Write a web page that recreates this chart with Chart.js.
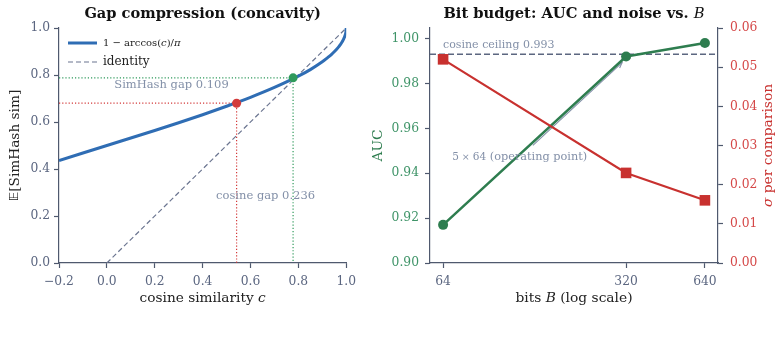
<!DOCTYPE html>
<html>
<head>
<meta charset="utf-8">
<script src="https://cdn.jsdelivr.net/npm/chart.js@4.4.1/dist/chart.umd.min.js"></script>
<style>
  html, body { margin: 0; padding: 0; background: #fff; }
  #wrap { position: relative; width: 783px; height: 339px; }
  canvas { position: absolute; top: 0; }
</style>
</head>
<body>
<div id="wrap">
  <canvas id="left" width="362" height="339" style="left:0"></canvas>
  <canvas id="right" width="421" height="339" style="left:362px"></canvas>
</div>
<script>
// ---- left panel data ----
const cosGrid = [-0.2, -0.1, 0, 0.1, 0.2, 0.3, 0.4, 0.5, 0.6, 0.7, 0.8, 0.85, 0.9, 0.92, 0.94, 0.95, 0.96, 0.97, 0.98, 0.99, 0.995, 0.999, 1.0];
const simhashCurve = [0.436, 0.468, 0.5, 0.532, 0.564, 0.597, 0.631, 0.667, 0.705, 0.747, 0.795, 0.823, 0.856, 0.872, 0.889, 0.899, 0.910, 0.922, 0.936, 0.955, 0.968, 0.986, 1.0];
const identityX = [0, 1];
const identityY = [0, 1];
const pairCos = [0.542, 0.778];   // red pair, green pair
const pairSim = [0.680, 0.788];
const cosTicks = [-0.2, 0, 0.2, 0.4, 0.6, 0.8, 1.0];
const simTicks = [0, 0.2, 0.4, 0.6, 0.8, 1.0];

// ---- right panel data ----
const bits = [64, 320, 640];
const auc = [0.917, 0.992, 0.998];
const sigma = [0.052, 0.023, 0.016];
const cosineCeiling = 0.993;
const bitTicks = [64, 320, 640];
const aucTicks = [0.90, 0.92, 0.94, 0.96, 0.98, 1.00];
const sigmaTicks = [0, 0.01, 0.02, 0.03, 0.04, 0.05, 0.06];

const SERIF = '"DejaVu Serif", "Liberation Serif", serif';
const SLATE = '#4f596e';
const TICKTXT = '#5b6680';
const NOTE = '#8390a8';
const BLUE = '#2f6db4';
const GREEN = '#2e7d4f';
const RED = '#c8312f';
const TICKFONT = { family: SERIF, size: 12.3 };

function drawParts(ctx, parts, x, y, align, angle) {
  ctx.save();
  ctx.translate(x, y);
  ctx.rotate(angle || 0);
  let total = 0;
  parts.forEach(p => { ctx.font = p.font; p.w = ctx.measureText(p.t).width; total += p.w; });
  let cx = align === 'center' ? -total / 2 : align === 'right' ? -total : 0;
  ctx.textBaseline = 'middle';
  ctx.textAlign = 'left';
  parts.forEach(p => {
    ctx.font = p.font;
    ctx.fillStyle = p.color;
    ctx.fillText(p.t, cx, 0);
    cx += p.w;
  });
  ctx.restore();
}

function axisStyle(extra) {
  return Object.assign({
    grid: { display: true, drawOnChartArea: false, drawTicks: true, tickLength: 5, tickColor: SLATE, tickWidth: 1.2 },
    border: { display: true, color: SLATE, width: 1.2 },
  }, extra);
}

const xMinCos = -0.2;
const leftColor = ['#d33a3a', '#2f9a5c'];

const guideSets = pairCos.map((c, i) => ({
  data: [{ x: xMinCos, y: pairSim[i] }, { x: c, y: pairSim[i] }, { x: c, y: 0 }],
  borderColor: leftColor[i],
  borderWidth: 1.2,
  borderDash: [1.2, 2],
  pointRadius: 0,
  order: 3,
}));

const leftDecor = {
  id: 'leftDecor',
  afterDraw(chart) {
    const { ctx, chartArea: a, scales: { x, y } } = chart;
    const cx = (a.left + a.right) / 2;
    drawParts(ctx, [{ t: 'Gap compression (concavity)', font: 'bold 14.6px ' + SERIF, color: '#111' }], cx, 14, 'center');
    drawParts(ctx, [
      { t: 'cosine similarity ', font: '13.7px ' + SERIF, color: '#222' },
      { t: 'c', font: 'italic 13.7px ' + SERIF, color: '#222' },
    ], cx, 298, 'center');
    drawParts(ctx, [
      { t: '𝔼', font: '13px "DejaVu Sans", ' + SERIF, color: '#222' },
      { t: '[SimHash sim]', font: '13.7px ' + SERIF, color: '#222' },
    ], 15, (a.top + a.bottom) / 2, 'center', -Math.PI / 2);
    // annotations
    drawParts(ctx, [{ t: 'SimHash gap 0.109', font: '11.5px ' + SERIF, color: NOTE }], x.getPixelForValue(0.27), y.getPixelForValue(0.757), 'center');
    drawParts(ctx, [{ t: 'cosine gap 0.236', font: '11.5px ' + SERIF, color: NOTE }], x.getPixelForValue(0.663), y.getPixelForValue(0.285), 'center');
    // legend
    const ds = chart.data.datasets;
    const lx = a.left + 9, lw = 29;
    [[ds[1], a.top + 15], [ds[2], a.top + 34]].forEach(([d, ly]) => {
      ctx.save();
      ctx.strokeStyle = d.borderColor;
      ctx.lineWidth = d.borderWidth;
      ctx.setLineDash(d.borderDash || []);
      ctx.beginPath(); ctx.moveTo(lx, ly); ctx.lineTo(lx + lw, ly); ctx.stroke();
      ctx.restore();
    });
    drawParts(ctx, [
      { t: '1 − arccos(', font: '10px ' + SERIF, color: '#222' },
      { t: 'c', font: 'italic 10px ' + SERIF, color: '#222' },
      { t: ')/', font: '10px ' + SERIF, color: '#222' },
      { t: 'π', font: 'italic 10px ' + SERIF, color: '#222' },
    ], lx + lw + 6, a.top + 15, 'left');
    drawParts(ctx, [{ t: 'identity', font: '12px ' + SERIF, color: '#222' }], lx + lw + 6, a.top + 34, 'left');
  }
};

new Chart(document.getElementById('left'), {
  type: 'line',
  data: {
    datasets: [
      {
        type: 'scatter',
        data: pairCos.map((c, i) => ({ x: c, y: pairSim[i] })),
        pointBackgroundColor: leftColor,
        pointBorderWidth: 0,
        pointRadius: 4.5,
        order: 0,
      },
      {
        label: '1 − arccos(c)/π',
        data: cosGrid.map((c, i) => ({ x: c, y: simhashCurve[i] })),
        borderColor: BLUE,
        borderWidth: 3,
        pointRadius: 0,
        cubicInterpolationMode: 'monotone',
        order: 1,
      },
      {
        label: 'identity',
        data: identityX.map((c, i) => ({ x: c, y: identityY[i] })),
        borderColor: '#6b7590',
        borderWidth: 1.2,
        borderDash: [5, 3],
        pointRadius: 0,
        order: 2,
      },
      ...guideSets,
    ],
  },
  options: {
    responsive: false,
    animation: false,
    devicePixelRatio: 1,
    events: [],
    layout: { padding: { top: 28, right: 15, bottom: 0, left: 0 } },
    plugins: { legend: { display: false }, tooltip: { enabled: false } },
    scales: {
      x: axisStyle({
        type: 'linear', min: -0.2, max: 1.0,
        afterBuildTicks: s => { s.ticks = cosTicks.map(v => ({ value: v })); },
        afterFit: s => { s.height = 76; },
        ticks: { color: TICKTXT, font: TICKFONT, padding: 6, maxRotation: 0,
          callback: v => v.toFixed(1).replace('-', '−') },
      }),
      y: axisStyle({
        type: 'linear', min: 0, max: 1.0,
        afterBuildTicks: s => { s.ticks = simTicks.map(v => ({ value: v })); },
        afterFit: s => { s.width = 59; },
        ticks: { color: TICKTXT, font: TICKFONT, padding: 4,
          callback: v => v.toFixed(1) },
      }),
    },
  },
  plugins: [leftDecor],
});

// ---- right panel ----
const bitMin = 64 / Math.pow(10, 0.05);
const bitMax = 640 * Math.pow(10, 0.05);

const rightDecor = {
  id: 'rightDecor',
  beforeDatasetsDraw(chart) {
    const { ctx, scales: { x, y } } = chart;
    const x0 = x.getPixelForValue(141), y0 = y.getPixelForValue(0.9524);
    const x1 = x.getPixelForValue(309), y1 = y.getPixelForValue(0.9893);
    ctx.save();
    ctx.strokeStyle = NOTE;
    ctx.lineWidth = 1.1;
    ctx.beginPath(); ctx.moveTo(x0, y0); ctx.lineTo(x1, y1); ctx.stroke();
    const ang = Math.atan2(y1 - y0, x1 - x0);
    ctx.beginPath();
    ctx.moveTo(x1 - 6 * Math.cos(ang - 0.4), y1 - 6 * Math.sin(ang - 0.4));
    ctx.lineTo(x1, y1);
    ctx.lineTo(x1 - 6 * Math.cos(ang + 0.4), y1 - 6 * Math.sin(ang + 0.4));
    ctx.stroke();
    ctx.restore();
  },
  afterDraw(chart) {
    const { ctx, chartArea: a, scales: { x, y } } = chart;
    const cx = (a.left + a.right) / 2;
    drawParts(ctx, [
      { t: 'Bit budget: AUC and noise vs. ', font: 'bold 14.7px ' + SERIF, color: '#111' },
      { t: 'B', font: 'italic 14.7px ' + SERIF, color: '#111' },
    ], cx, 14, 'center');
    drawParts(ctx, [
      { t: 'bits ', font: '13.8px ' + SERIF, color: '#222' },
      { t: 'B', font: 'italic 13.8px ' + SERIF, color: '#222' },
      { t: ' (log scale)', font: '13.8px ' + SERIF, color: '#222' },
    ], cx, 298, 'center');
    const my = (a.top + a.bottom) / 2;
    drawParts(ctx, [{ t: 'AUC', font: '13.8px ' + SERIF, color: GREEN }], 16, my, 'center', -Math.PI / 2);
    drawParts(ctx, [
      { t: 'σ', font: 'italic 13.8px ' + SERIF, color: RED },
      { t: ' per comparison', font: '13.8px ' + SERIF, color: RED },
    ], 406, my, 'center', -Math.PI / 2);
    drawParts(ctx, [{ t: 'cosine ceiling 0.993', font: '11px ' + SERIF, color: NOTE }], x.getPixelForValue(64), y.getPixelForValue(0.9969), 'left');
    drawParts(ctx, [
      { t: '5', font: '10.5px ' + SERIF, color: NOTE },
      { t: ' × ', font: '9.5px ' + SERIF, color: NOTE },
      { t: '64', font: '10.5px ' + SERIF, color: NOTE },
      { t: ' (operating point)', font: '11.3px ' + SERIF, color: NOTE },
    ], x.getPixelForValue(69.3), y.getPixelForValue(0.9471), 'left');
  }
};

new Chart(document.getElementById('right'), {
  type: 'line',
  data: {
    datasets: [
      {
        label: 'σ per comparison',
        data: bits.map((b, i) => ({ x: b, y: sigma[i] })),
        yAxisID: 'y2',
        borderColor: RED,
        borderWidth: 2.2,
        pointStyle: 'rect',
        pointRadius: 7.5,
        pointBackgroundColor: RED,
        pointBorderWidth: 0,
        order: 0,
      },
      {
        label: 'AUC',
        data: bits.map((b, i) => ({ x: b, y: auc[i] })),
        yAxisID: 'y',
        borderColor: GREEN,
        borderWidth: 2.5,
        pointRadius: 5,
        pointBackgroundColor: GREEN,
        pointBorderWidth: 0,
        order: 1,
      },
      {
        label: 'cosine ceiling',
        data: [{ x: bitMin, y: cosineCeiling }, { x: bitMax, y: cosineCeiling }],
        yAxisID: 'y',
        borderColor: '#5c6780',
        borderWidth: 1.3,
        borderDash: [6, 3],
        pointRadius: 0,
        order: 2,
      },
    ],
  },
  options: {
    responsive: false,
    animation: false,
    devicePixelRatio: 1,
    events: [],
    layout: { padding: { top: 28, right: 0, bottom: 0, left: 0 } },
    plugins: { legend: { display: false }, tooltip: { enabled: false } },
    scales: {
      x: axisStyle({
        type: 'logarithmic', min: bitMin, max: bitMax,
        afterBuildTicks: s => { s.ticks = bitTicks.map(v => ({ value: v })); },
        afterFit: s => { s.height = 76; },
        ticks: { color: TICKTXT, font: TICKFONT, padding: 6, maxRotation: 0,
          callback: v => String(v) },
      }),
      y: axisStyle({
        type: 'linear', position: 'left', min: 0.9, max: 1.0047,
        afterBuildTicks: s => { s.ticks = aucTicks.map(v => ({ value: v })); },
        afterFit: s => { s.width = 68; },
        ticks: { color: '#3f9468', font: TICKFONT, padding: 6,
          callback: v => v.toFixed(2) },
      }),
      y2: axisStyle({
        type: 'linear', position: 'right', min: 0, max: 0.06,
        afterBuildTicks: s => { s.ticks = sigmaTicks.map(v => ({ value: v })); },
        afterFit: s => { s.width = 65; },
        ticks: { color: '#d54848', font: TICKFONT, padding: 7,
          callback: v => v.toFixed(2) },
      }),
    },
  },
  plugins: [rightDecor],
});
</script>
</body>
</html>
